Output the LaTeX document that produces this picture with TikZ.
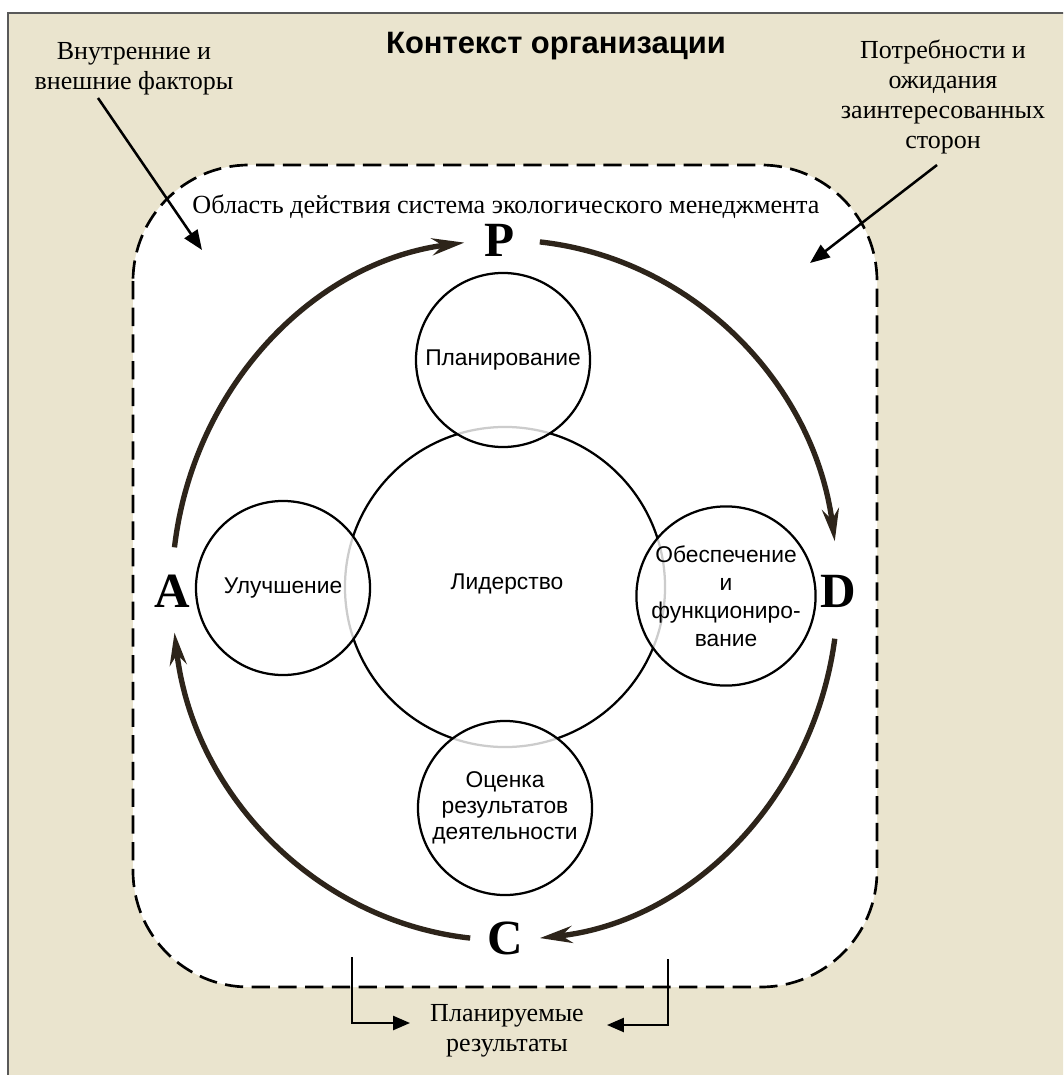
\documentclass[tikz,border=0pt]{standalone}
\usepackage{fontspec}
\setmainfont{Liberation Serif}
\setsansfont{Liberation Sans}
\usetikzlibrary{arrows.meta,calc}

\definecolor{ctxbg}{RGB}{234,228,206}
\definecolor{cycbrown}{RGB}{45,36,26}

\tikzset{
  stage/.style={circle, draw, line width=1.6pt, fill=white, fill opacity=0.8,
    text opacity=1, minimum size=4.35cm, inner sep=0pt, align=center,
    font=\sffamily\fontsize{16.2}{19}\selectfont},
  core/.style={circle, draw, line width=1.6pt, minimum size=8cm},
  note/.style={align=center, font=\fontsize{18.5}{21.5}\selectfont},
  pdca/.style={inner sep=0pt, font=\bfseries\fontsize{35}{38}\selectfont},
  ext/.style={line width=1.8pt, -{Triangle[length=14pt,width=11pt]}},
  cyc/.style={line width=3.8pt, cycbrown, -{Stealth[length=23pt,width=12pt]}},
  result/.style={line width=1.4pt, -{Triangle[length=12pt,width=10pt]}}
}

\begin{document}
\begin{tikzpicture}[x=0.025cm, y=-0.025cm]
\useasboundingbox (0,0) rectangle (1063,1075);
\clip (0,0) rectangle (1063,1075);
\fill[white] (0,0) rectangle (1063,1075);
\draw[fill=ctxbg, draw=black!65, line width=0.8pt] (8,13) rectangle (1090,1100);

% context
\node[font=\sffamily\bfseries\fontsize{22}{25}\selectfont] (title) at (556,46) {Контекст организации};
\node[note] (factors) at (134,69) {Внутренние и\\внешние факторы};
\node[note] (needs) at (943,97) {Потребности и\\ожидания\\заинтересованных\\сторон};

% scope of the EMS
\draw[line width=1.9pt, dash pattern=on 13pt off 6pt, fill=white, rounded corners=2.9cm]
  (133,165) rectangle (877,987);
\node[note, inner sep=1pt, font=\fontsize{18.6}{21}\selectfont] (scope) at (506,207) {Область действия система экологического менеджмента};

\coordinate (fstart) at (98,98);
\coordinate (fend) at (202,250);
\coordinate (nstart) at (937,165);
\coordinate (nend) at (810,263);
\draw[ext] (fstart) -- (fend);
\draw[ext] (nstart) -- (nend);

% circles
\node[core] (lead) at (505,587) {};
\node[font=\sffamily\fontsize{16.2}{19}\selectfont] (leadtext) at (507,584) {Лидерство};
\node[stage] (plan) at (503,360) {Планирование};
\node[stage] (impr) at (283,588) {Улучшение};
\node[stage, font=\sffamily\fontsize{16.2}{19.8}\selectfont] (oper) at (726,596) {Обеспечение\\и\\функциониро-\\вание};
\node[stage, font=\sffamily\fontsize{16.2}{18.6}\selectfont] (eval) at (505,808) {Оценка\\результатов\\деятельности};

% PDCA
\node[pdca] (P) at (500,240) {P};
\node[pdca] (D) at (838,591) {D};
\node[pdca] (C) at (505,938) {C};
\node[pdca] (A) at (172,591) {A};
\coordinate (hub) at (505,590);
\draw[cyc] ($(hub)+(187:333 and 350)$) arc[start angle=187, end angle=263, x radius=333, y radius=350];
\draw[cyc] ($(hub)+(276:333 and 350)$) arc[start angle=276, end angle=352, x radius=333, y radius=350];
\draw[cyc] ($(hub)+(8:333 and 350)$) arc[start angle=8, end angle=84, x radius=333, y radius=350];
\draw[cyc] ($(hub)+(96:333 and 350)$) arc[start angle=96, end angle=173, x radius=333, y radius=350];

% intended outcomes
\node[note] (outcome) at (507,1031) {Планируемые\\результаты};
\coordinate (lstub) at (352,957);
\coordinate (ltip) at (410,1023);
\coordinate (rstub) at (668,959);
\coordinate (rtip) at (607,1025);
\draw[result] (lstub) |- (ltip);
\draw[result] (rstub) |- (rtip);
\end{tikzpicture}
\end{document}
